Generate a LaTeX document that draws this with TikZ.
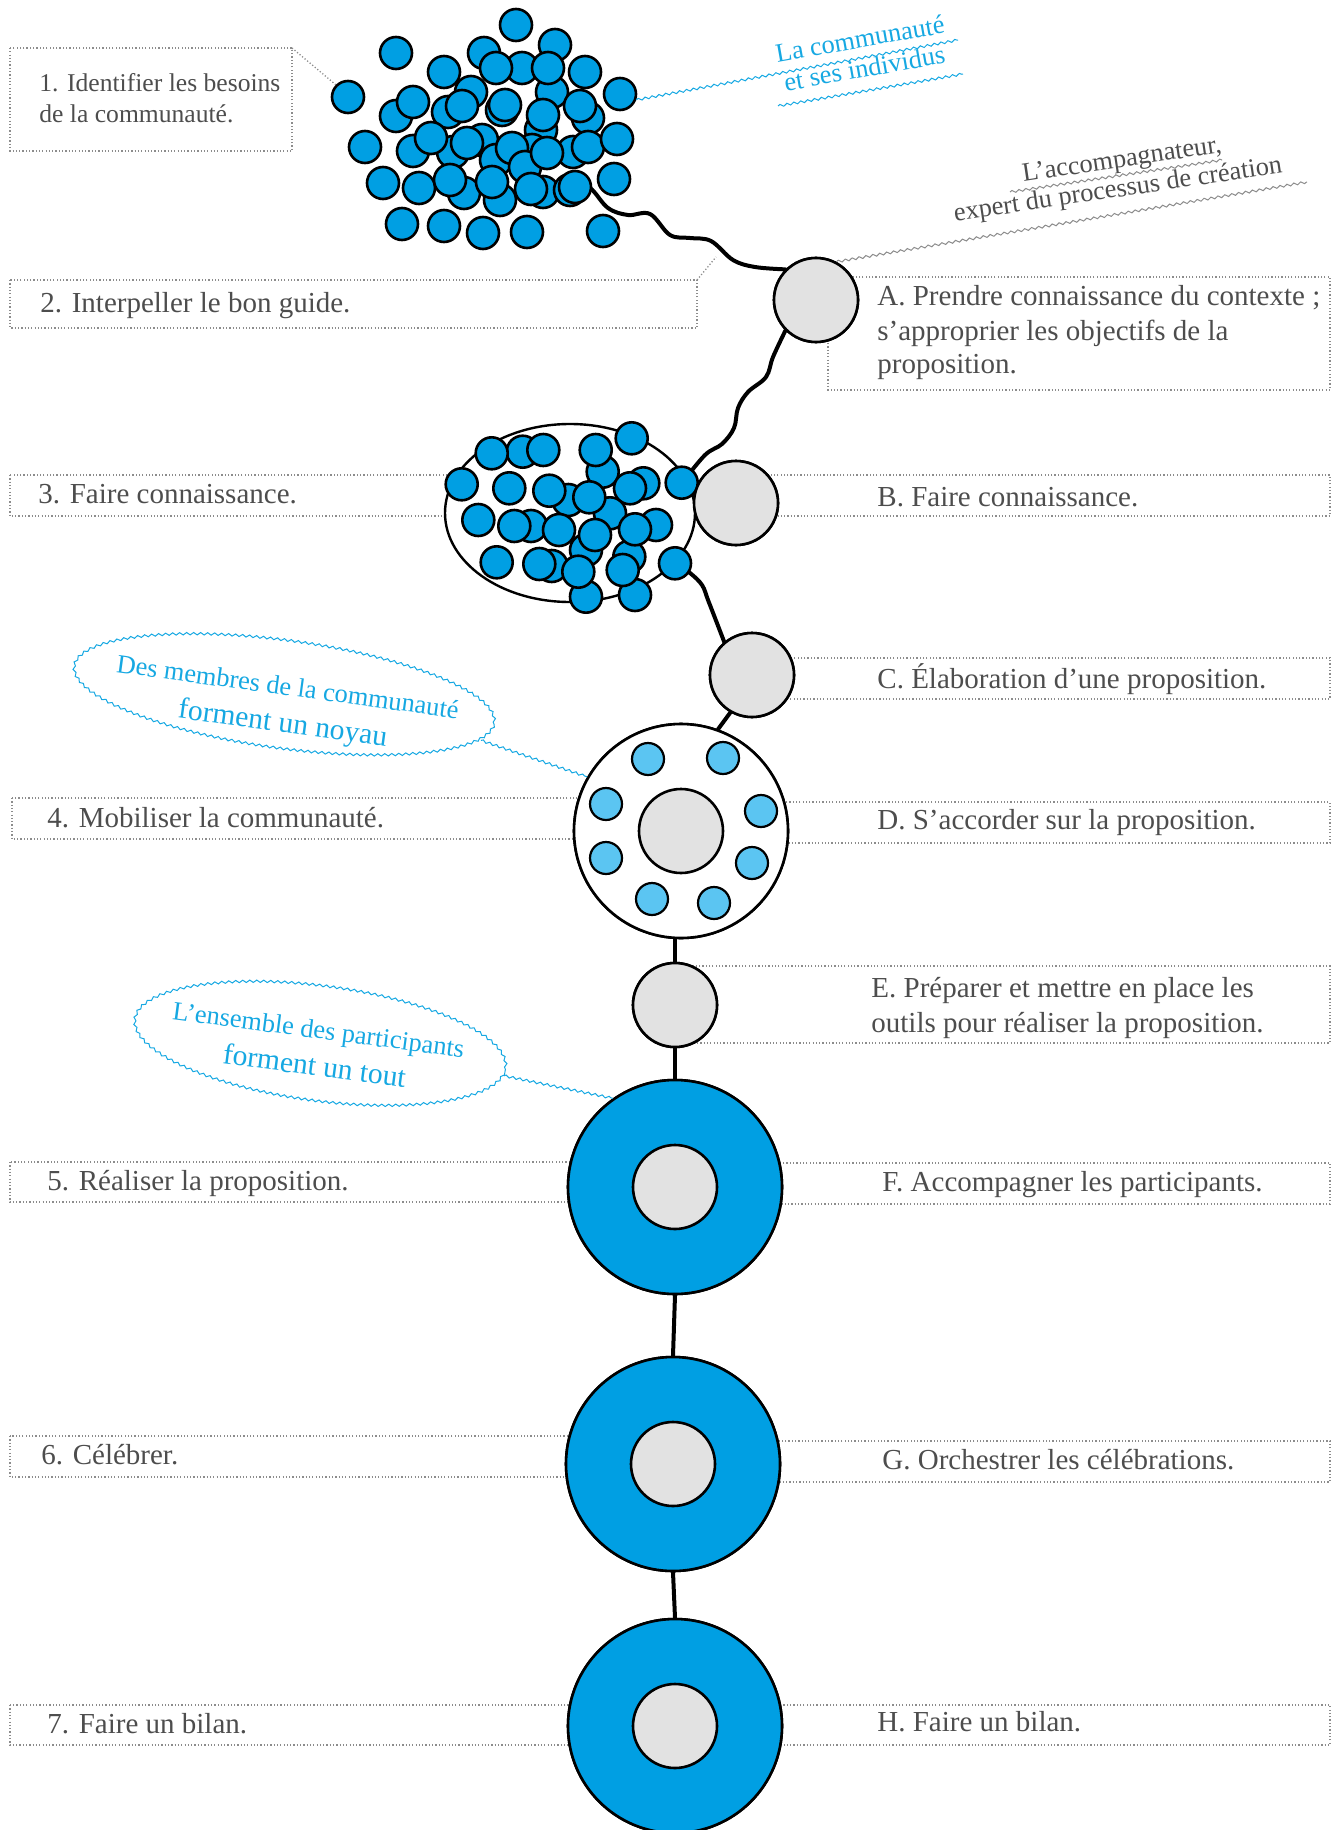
\documentclass[tikz,border=0pt]{standalone}
\usepackage{fontspec}
\setmainfont{Liberation Serif}
\usetikzlibrary{shapes.geometric,decorations.pathmorphing}
\definecolor{ringblue}{RGB}{0,159,227}
\definecolor{lightdot}{RGB}{91,197,242}
\definecolor{gfill}{RGB}{226,226,226}
\definecolor{txtgray}{RGB}{77,77,77}
\definecolor{boxgray}{RGB}{140,140,140}
\definecolor{cyantxt}{RGB}{22,168,226}
\begin{document}
\begin{tikzpicture}[x=0.5pt,y=-0.5pt,
  boxline/.style={draw=boxgray, line width=0.65pt, dash pattern=on 0.6pt off 1.05pt},
  linkline/.style={line width=2pt, line cap=round},
  gcircle/.style={circle, draw, fill=gfill, line width=1.3pt, minimum size=42pt, inner sep=0pt},
  ringnode/.style={circle, draw, fill=ringblue, line width=1.3pt, minimum size=107pt, inner sep=0pt},
  wringnode/.style={circle, draw, fill=white, line width=1.3pt, minimum size=107pt, inner sep=0pt},
  bluedot/.style={circle, draw, fill=ringblue, line width=1.3pt, minimum size=16pt, inner sep=0pt},
  lbdot/.style={circle, draw, fill=lightdot, line width=1.1pt, minimum size=16pt, inner sep=0pt},
  boxtext/.style={anchor=base west, text=txtgray, font=\fontsize{14.5}{17}\selectfont, inner sep=0pt},
  smallboxtext/.style={anchor=base west, text=txtgray, font=\fontsize{12.8}{15.5}\selectfont, inner sep=0pt},
  cyantext/.style={anchor=base, text=cyantxt, font=\fontsize{13.2}{16}\selectfont, inner sep=0pt},
  bigcyantext/.style={anchor=base, text=cyantxt, font=\fontsize{14.8}{17}\selectfont, inner sep=0pt},
  graytext/.style={anchor=base, text=txtgray, font=\fontsize{13.2}{16}\selectfont, inner sep=0pt},
  cyanwave/.style={draw=cyantxt, line width=0.5pt, decorate, decoration={snake, segment length=3.5pt, amplitude=0.6pt}},
  graywave/.style={draw=boxgray, line width=0.5pt, decorate, decoration={snake, segment length=3.5pt, amplitude=0.6pt}},
]
\path[use as bounding box] (0,0) rectangle (1337,1830);

% ---------- dotted boxes ----------
\draw[boxline] (10,48) rectangle (292,151);
\draw[boxline] (10,280) rectangle (697,328);
\draw[boxline] (828,277) rectangle (1330,390);
\draw[boxline] (10,475) rectangle (600,516);
\draw[boxline] (736,475) rectangle (1330,516);
\draw[boxline] (752,658) rectangle (1330,699);
\draw[boxline] (12,798) rectangle (681,839);
\draw[boxline] (681,802) rectangle (1330,843);
\draw[boxline] (675,966) rectangle (1330,1043);
\draw[boxline] (10,1162) rectangle (674,1202);
\draw[boxline] (674,1163) rectangle (1330,1204);
\draw[boxline] (10,1436) rectangle (672,1477);
\draw[boxline] (672,1441) rectangle (1330,1482);
\draw[boxline] (10,1705) rectangle (675,1745);
\draw[boxline] (675,1705) rectangle (1330,1745);

% free ends of leaders
\coordinate (b1c) at (292,48);
\coordinate (b2c) at (697,280);
\coordinate (b2e) at (716,257);
\draw[boxline] (b2c) -- (b2e);

% ---------- main circles (for names) ----------
\node[gcircle] (A) at (816,300) {};
\node[gcircle] (B) at (736,503) {};
\node[gcircle] (C) at (752,675) {};
\node[wringnode] (D) at (681,831) {};
\node[gcircle] (E) at (675,1005) {};
\node[ringnode] (F) at (675,1187) {};
\node[ringnode] (G) at (673,1464) {};
\node[ringnode] (H) at (675,1726) {};

% ---------- connectors ----------
\coordinate (w1s) at (575,187);
\draw[linkline] plot[smooth, tension=0.6] coordinates {(w1s) (590,188) (608,208) (628,215) (650,214) (670,235) (690,238) (711,241) (733,260) (755,267) (A.135)};
\coordinate (w2e) at (682,483);
\draw[linkline] plot[smooth, tension=0.6] coordinates {(A.-135) (773,357) (766,377) (748,392) (738,408) (734,428) (722,444) (705,455) (w2e)};
\coordinate (w3s) at (675,563);
\draw[linkline] plot[smooth, tension=0.6] coordinates {(w3s) (690,573) (702,585) (708,600) (715,618) (C.130)};
\draw[linkline] (C.-120) -- (D.70);
\draw[linkline] (E.north) -- (E.north |- D.south);
\draw[linkline] (E.south) -- (F.north);
\draw[linkline] (F.south) -- (G.north);
\draw[linkline] (G.south) -- (H.north);

% redraw circles over connectors
\node[gcircle] at (A) {};
\node[wringnode] at (D) {};
\node[gcircle] (Di) at (681,831) {};
\node[gcircle] at (E) {};
\node[ringnode] at (F) {};
\node[gcircle] (Fi) at (675,1187) {};
\node[ringnode] at (G) {};
\node[gcircle] (Gi) at (673,1464) {};
\node[ringnode] at (H) {};
\node[gcircle] (Hi) at (675,1726) {};

% light dots in D
\foreach \x/\y [count=\i] in {648/759,723/758,606/804,761/811,606/858,752/863,652/899,714/903}
  \node[lbdot] (ld\i) at (\x,\y) {};

% ---------- group ellipse (step 3) ----------
\node[ellipse, draw, fill=white, line width=1.2pt, minimum width=125pt, minimum height=89pt, inner sep=0pt] (grp) at (570,513) {};
\foreach \x/\y [count=\i] in {522.7/451.7,602.7/471.7,643.3/483.3,568.3/500,610/513.3,531/526,586/550,656/525,551.7/566,586/596.7,629.3/556.7,635/595,
  491.7/453.3,543.3/450,595.7/450,631.7/438.3,461.7/484.3,509.3/488.3,549.3/490.7,589.3/497.3,630/488.3,681.7/482.7,478.3/520,514.3/526,559/530,595/535,635/529.3,496.7/562.3,539.3/564,578.3/571.7,622.7/570,675/563.3}
  \node[bluedot] (g\i) at (\x,\y) {};
\node[gcircle] at (B) {};
\node[gcircle] at (C) {};

% ---------- cluster (step 1) ----------
\foreach \x/\y [count=\i] in {484/53,522/68,552/92,555/45,516/25,396/53,444/72,585/72,471/92,396/116,448/112,588/118,541/130,413/151,453/152,482/140,496/160,532/150,573/152,464/193,500/200,543/192,570/190,
  496/68,548/68,413/102,462/106,502/110,505/105,543/115,580/106,431/138,467/143,512/148,525/167,547/153,588/147,617/139,365/147,383/183,419/188,450/180,492/182,531/189,614/179,402/224,444/226,483/233,527/232,603/231}
  \node[bluedot] (k\i) at (\x,\y) {};
\node[bluedot] (cl) at (348,97) {};
\node[bluedot] (cr) at (620,94) {};
\node[bluedot] (cw) at (575,187) {};

\draw[boxline] (b1c) -- (cl.135);

% ---------- labels with waves ----------
\coordinate (cw1e) at (958,40);
\coordinate (cw2s) at (778,106);
\coordinate (cw2e) at (963,74);
\draw[cyanwave] (cr.-20) -- (cw1e);
\draw[cyanwave] (cw2s) -- (cw2e);
\node[cyantext, rotate=10] (comm1) at (861.5,47.6) {La communauté};
\node[cyantext, rotate=10] (comm2) at (866,77) {et ses individus};

\coordinate (aw2e) at (1307,182);
\coordinate (aw1s) at (1010,192);
\coordinate (aw1e) at (1222,160);
\draw[graywave] (A.62) -- (aw2e);
\draw[graywave] (aw1s) -- (aw1e);
\node[graytext, rotate=8.5] (acc1) at (1123,167) {L’accompagnateur,};
\node[graytext, rotate=8.5] (acc2) at (1119,197) {expert du processus de création};

% ---------- callouts ----------
\node[ellipse, cyanwave, rotate=-7.7, minimum width=212pt, minimum height=54pt, inner sep=0pt] (cal1) at (284,696) {};
\draw[cyanwave] (cal1.-5) -- (D.150);
\node[cyantext, rotate=-7.7] (cal1a) at (286.7,695.5) {Des membres de la communauté};
\node[bigcyantext, rotate=-7.7] (cal1b) at (281.7,732) {forment un noyau};

\node[ellipse, cyanwave, rotate=-7.5, minimum width=187pt, minimum height=57.5pt, inner sep=0pt] (cal2) at (320,1045) {};
\draw[cyanwave] (cal2.-2) -- (F.125);
\node[cyantext, rotate=-7.5] (cal2a) at (317.5,1038.5) {L’ensemble des participants};
\node[bigcyantext, rotate=-7.5] (cal2b) at (313.3,1075.5) {forment un tout};

% ---------- box texts ----------
\node[smallboxtext] (t1a) at (39,92) {1. Identifier les besoins};
\node[smallboxtext] (t1b) at (39,123) {de la communauté.};
\node[boxtext] (t2) at (40,312) {2. Interpeller le bon guide.};
\node[boxtext] (tAa) at (877,305) {A. Prendre connaissance du contexte~;};
\node[boxtext] (tAb) at (877,340) {s’approprier les objectifs de la};
\node[boxtext] (tAc) at (877,373) {proposition.};
\node[boxtext] (t3) at (38,503) {3. Faire connaissance.};
\node[boxtext] (tB) at (877,506) {B. Faire connaissance.};
\node[boxtext] (tC) at (877,688) {C. Élaboration d’une proposition.};
\node[boxtext] (t4) at (47,827) {4. Mobiliser la communauté.};
\node[boxtext] (tD) at (877,829) {D. S’accorder sur la proposition.};
\node[boxtext] (tEa) at (871,997) {E. Préparer et mettre en place les};
\node[boxtext] (tEb) at (871,1032) {outils pour réaliser la proposition.};
\node[boxtext] (t5) at (47,1190) {5. Réaliser la proposition.};
\node[boxtext] (tF) at (882,1191) {F. Accompagner les participants.};
\node[boxtext] (t6) at (41,1464) {6. Célébrer.};
\node[boxtext] (tG) at (882,1469) {G. Orchestrer les célébrations.};
\node[boxtext] (t7) at (47,1733) {7. Faire un bilan.};
\node[boxtext] (tH) at (877,1731) {H. Faire un bilan.};
\end{tikzpicture}
\end{document}
